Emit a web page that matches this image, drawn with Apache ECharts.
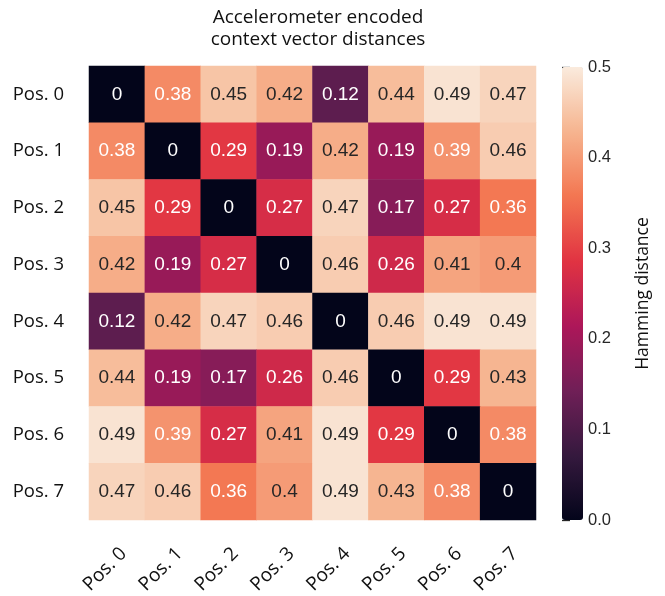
<!DOCTYPE html>
<html><head><meta charset="utf-8">
<script src="https://cdn.jsdelivr.net/npm/echarts@6/dist/echarts.min.js"></script>
<style>html,body{margin:0;padding:0;background:#fff}#c{width:665px;height:596px}</style>
</head><body><div id="c"></div>
<script>
const rowLabels = ['Pos. 0','Pos. 1','Pos. 2','Pos. 3','Pos. 4','Pos. 5','Pos. 6','Pos. 7'];
const colLabels = ['Pos. 0','Pos. 1','Pos. 2','Pos. 3','Pos. 4','Pos. 5','Pos. 6','Pos. 7'];
const row0 = [0, 0.38, 0.45, 0.42, 0.12, 0.44, 0.49, 0.47];
const row1 = [0.38, 0, 0.29, 0.19, 0.42, 0.19, 0.39, 0.46];
const row2 = [0.45, 0.29, 0, 0.27, 0.47, 0.17, 0.27, 0.36];
const row3 = [0.42, 0.19, 0.27, 0, 0.46, 0.26, 0.41, 0.4];
const row4 = [0.12, 0.42, 0.47, 0.46, 0, 0.46, 0.49, 0.49];
const row5 = [0.44, 0.19, 0.17, 0.26, 0.46, 0, 0.29, 0.43];
const row6 = [0.49, 0.39, 0.27, 0.41, 0.49, 0.29, 0, 0.38];
const row7 = [0.47, 0.46, 0.36, 0.4, 0.49, 0.43, 0.38, 0];
const colorbarTicks = [0, 0.1, 0.2, 0.3, 0.4, 0.5];

const rows = [row0,row1,row2,row3,row4,row5,row6,row7];
const rocket = ['#03051a','#35193e','#701f57','#ad1759','#e13342','#f37651','#f6b48f','#faebdd'];
const data = [];
rows.forEach((r, i) => r.forEach((v, j) => {
  data.push({value: [j, i, v], label: {color: v < 0.395 ? '#ffffff' : '#262626'}});
}));

const chart = echarts.init(document.getElementById('c'), null, {renderer: 'canvas'});
chart.setOption({
  animation: false,
  title: {
    text: 'Accelerometer encoded\ncontext vector distances',
    left: 313, top: 2, textAlign: 'center',
    textStyle: {fontFamily: 'Open Sans', fontWeight: 'normal', fontSize: 19, color: '#111111', lineHeight: 22}
  },
  grid: [
    {left: 89, top: 66, width: 447, height: 454, containLabel: false, outerBoundsMode: 'none'},
    {left: 562, top: 67, width: 21, height: 453, containLabel: false, outerBoundsMode: 'none'}
  ],
  xAxis: [
    {type: 'category', data: colLabels, gridIndex: 0, position: 'bottom',
     axisLine: {show: false}, axisTick: {show: false}, splitLine: {show: false},
     axisLabel: {rotate: 45, align: 'right', verticalAlign: 'top', fontFamily: 'Open Sans', fontSize: 19, color: '#111111', margin: 24}},
    {type: 'value', gridIndex: 1, show: false, min: 0, max: 1}
  ],
  yAxis: [
    {type: 'category', data: rowLabels, gridIndex: 0, inverse: true,
     axisLine: {show: false}, axisTick: {show: false}, splitLine: {show: false},
     axisLabel: {fontFamily: 'Open Sans', fontSize: 18.5, color: '#111111', margin: 25}},
    {type: 'value', gridIndex: 1, position: 'right', min: 0, max: 0.5, interval: 0.1,
     axisLine: {show: false}, splitLine: {show: false},
     axisTick: {show: true, length: 8, lineStyle: {color: '#262626', width: 1.3}},
     axisLabel: {margin: 5, fontFamily: 'Liberation Sans', fontSize: 16.5, color: '#262626',
       formatter: v => colorbarTicks.some(t => Math.abs(t - v) < 1e-9) ? v.toFixed(1) : ''},
     name: 'Hamming distance', nameLocation: 'middle', nameRotate: 90, nameGap: 51,
     nameTextStyle: {fontFamily: 'Open Sans', fontSize: 17.5, color: '#111111'}}
  ],
  visualMap: {
    type: 'continuous', min: 0, max: 0.5, seriesIndex: 0, calculable: false,
    orient: 'vertical', left: 562, top: 67, itemWidth: 21, itemHeight: 453,
    padding: 0, text: null, showLabel: false,
    inRange: {color: rocket}
  },
  series: [
    {type: 'heatmap', xAxisIndex: 0, yAxisIndex: 0, data: data,
     label: {show: true, fontFamily: 'Liberation Sans', fontSize: 19, formatter: p => String(p.value[2])},
     itemStyle: {borderWidth: 0}},
    {type: 'scatter', xAxisIndex: 1, yAxisIndex: 1, data: [], silent: true}
  ]
});
</script></body></html>
